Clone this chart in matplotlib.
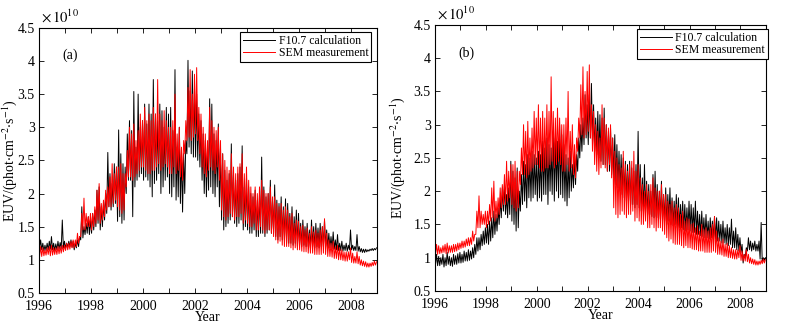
import numpy as np
import matplotlib
matplotlib.use("Agg")
import matplotlib.pyplot as plt
from matplotlib.ticker import MultipleLocator, FixedLocator, FuncFormatter

# EUV flux in units of 1e10 phot/(cm^2 s); one trough (lo) and one peak (hi)
# per month, 1996-2008, read across each ~27-day rotation swing.

# panel (a): F10.7 based calculation
f107_a_hi = [
    1.30, 1.25, 1.22, 1.25, 1.28, 1.35, 1.25, 1.24, 1.28, 1.26, 1.60, 1.28,  # 1996
    1.25, 1.28, 1.30, 1.28, 1.25, 1.30, 1.35, 1.80, 1.50, 1.55, 1.65, 1.60,  # 1997
    1.70, 1.75, 2.05, 2.10, 1.80, 1.85, 2.00, 2.62, 2.30, 2.15, 2.45, 2.40,  # 1998
    2.96, 2.60, 2.45, 2.40, 2.90, 3.10, 2.95, 3.54, 2.70, 3.50, 3.00, 3.10,  # 1999
    3.35, 3.05, 3.35, 3.20, 3.72, 3.20, 3.10, 3.35, 3.25, 3.00, 3.30, 3.20,  # 2000
    3.30, 2.95, 3.87, 2.70, 3.00, 2.60, 2.60, 2.80, 4.01, 3.55, 3.85, 3.60,  # 2001
    3.50, 3.20, 3.10, 2.90, 2.80, 2.70, 3.43, 3.35, 2.90, 2.80, 3.05, 2.70,  # 2002
    2.60, 2.35, 2.20, 2.30, 2.75, 2.30, 2.20, 2.30, 2.40, 2.72, 2.10, 2.25,  # 2003
    2.10, 2.00, 1.95, 2.05, 1.90, 2.00, 2.55, 2.10, 1.95, 2.00, 2.20, 1.90,  # 2004
    2.13, 1.90, 1.85, 1.95, 1.80, 1.92, 1.85, 1.70, 1.80, 1.65, 1.75, 1.70,  # 2005
    1.55, 1.60, 1.50, 1.55, 1.45, 1.60, 1.50, 1.55, 1.48, 1.55, 1.50, 1.60,  # 2006
    1.45, 1.40, 1.35, 1.42, 1.30, 1.38, 1.25, 1.28, 1.22, 1.25, 1.22, 1.45,  # 2007
    1.22, 1.20, 1.38, 1.20, 1.17, 1.16, 1.16, 1.15, 1.16, 1.17, 1.17, 1.18,  # 2008
]
f107_a_lo = [
    1.18, 1.15, 1.13, 1.14, 1.15, 1.16, 1.15, 1.14, 1.15, 1.16, 1.17, 1.18,
    1.18, 1.19, 1.20, 1.19, 1.15, 1.18, 1.20, 1.30, 1.33, 1.38, 1.40, 1.38,
    1.40, 1.45, 1.50, 1.55, 1.45, 1.50, 1.60, 1.70, 1.80, 1.75, 1.80, 1.85,
    1.58, 1.65, 1.55, 1.60, 2.00, 2.20, 2.20, 1.65, 2.10, 2.20, 2.25, 2.30,
    2.20, 2.25, 2.20, 2.10, 1.95, 2.15, 2.20, 2.30, 2.00, 2.10, 2.20, 2.25,
    2.00, 1.95, 2.10, 1.90, 1.95, 1.85, 1.72, 2.00, 2.60, 2.70, 2.60, 2.55,
    2.55, 2.50, 2.40, 2.20, 2.00, 1.95, 2.05, 2.10, 2.00, 1.95, 2.10, 1.80,
    1.60, 1.45, 1.50, 1.55, 1.60, 1.65, 1.55, 1.50, 1.55, 1.60, 1.45, 1.50,
    1.45, 1.40, 1.40, 1.45, 1.35, 1.35, 1.40, 1.40, 1.35, 1.40, 1.45, 1.40,
    1.40, 1.35, 1.30, 1.35, 1.30, 1.30, 1.25, 1.25, 1.25, 1.22, 1.25, 1.20,
    1.22, 1.20, 1.22, 1.20, 1.20, 1.18, 1.20, 1.18, 1.20, 1.18, 1.20, 1.20,
    1.20, 1.18, 1.18, 1.17, 1.16, 1.15, 1.14, 1.14, 1.13, 1.14, 1.13, 1.15,
    1.15, 1.14, 1.14, 1.13, 1.12, 1.11, 1.11, 1.12, 1.13, 1.14, 1.14, 1.15,
]

# panel (b): F10.7 based calculation, second model
f107_b_hi = [
    1.05, 1.02, 1.00, 1.05, 1.00, 1.08, 1.02, 1.00, 1.05, 1.03, 1.06, 1.08,
    1.05, 1.10, 1.08, 1.12, 1.10, 1.15, 1.20, 1.30, 1.30, 1.35, 1.40, 1.45,
    1.50, 1.55, 1.60, 1.70, 1.65, 1.75, 1.90, 2.05, 2.10, 1.95, 2.05, 2.45,
    2.30, 2.20, 2.35, 2.00, 2.25, 2.45, 2.40, 2.55, 2.50, 2.60, 2.55, 2.50,
    2.60, 2.55, 2.75, 2.65, 2.80, 2.70, 2.65, 2.90, 2.80, 2.75, 3.00, 2.85,
    2.70, 2.55, 2.50, 2.60, 2.40, 2.50, 2.55, 2.80, 3.00, 3.10, 3.45, 3.30,
    3.45, 3.62, 3.30, 3.10, 3.20, 3.15, 3.10, 3.25, 3.00, 2.90, 2.95, 2.80,
    2.85, 2.70, 2.60, 2.55, 2.50, 2.45, 2.40, 2.45, 2.35, 2.30, 2.40, 2.90,
    2.40, 2.20, 2.40, 2.15, 2.10, 2.00, 2.25, 2.30, 2.10, 2.00, 2.15, 1.95,
    2.05, 1.95, 2.05, 1.90, 1.85, 1.95, 1.90, 1.80, 1.85, 1.80, 1.75, 1.85,
    1.80, 1.75, 1.85, 1.70, 1.65, 1.70, 1.60, 1.65, 1.55, 1.60, 1.55, 1.62,
    1.60, 1.55, 1.50, 1.55, 1.45, 1.50, 1.45, 1.58, 1.40, 1.45, 1.35, 1.30,
    1.20, 1.05, 1.15, 1.30, 1.25, 1.22, 1.25, 1.20, 1.25, 1.53, 1.00, 1.00,
]
f107_b_lo = [
    0.90, 0.88, 0.88, 0.90, 0.86, 0.88, 0.90, 0.88, 0.87, 0.90, 0.90, 0.92,
    0.92, 0.93, 0.95, 0.95, 0.96, 0.98, 1.00, 1.05, 1.10, 1.12, 1.18, 1.20,
    1.22, 1.20, 1.25, 1.30, 1.35, 1.40, 1.50, 1.60, 1.70, 1.65, 1.60, 1.65,
    1.55, 1.50, 1.40, 1.45, 1.70, 1.80, 1.85, 1.75, 1.90, 1.85, 1.90, 1.95,
    1.85, 1.90, 1.85, 1.95, 1.95, 1.80, 2.00, 1.95, 1.85, 2.00, 1.90, 1.95,
    1.90, 1.85, 1.78, 1.90, 2.00, 2.05, 2.10, 2.30, 2.50, 2.60, 2.70, 2.80,
    2.70, 2.80, 2.75, 2.60, 2.55, 2.50, 2.45, 2.40, 2.40, 2.30, 2.30, 2.25,
    2.20, 2.10, 2.05, 2.00, 1.95, 1.90, 1.85, 1.85, 1.80, 1.80, 1.75, 1.80,
    1.75, 1.70, 1.70, 1.68, 1.65, 1.65, 1.62, 1.60, 1.62, 1.60, 1.58, 1.55,
    1.55, 1.50, 1.55, 1.50, 1.48, 1.50, 1.45, 1.45, 1.45, 1.42, 1.40, 1.42,
    1.40, 1.38, 1.38, 1.35, 1.35, 1.33, 1.32, 1.30, 1.30, 1.28, 1.30, 1.28,
    1.28, 1.25, 1.25, 1.22, 1.22, 1.20, 1.18, 1.20, 1.15, 1.15, 1.12, 1.10,
    1.08, 0.92, 1.00, 1.10, 1.12, 1.10, 1.12, 1.10, 1.10, 0.98, 0.95, 0.96,
]

# SEM measurement, shown in both panels
sem_hi = [
    1.20, 1.18, 1.15, 1.18, 1.20, 1.22, 1.18, 1.18, 1.20, 1.20, 1.22, 1.22,
    1.25, 1.25, 1.28, 1.30, 1.30, 1.40, 1.35, 1.70, 1.93, 1.70, 1.65, 1.70,
    1.70, 1.80, 2.05, 2.15, 1.85, 1.90, 2.05, 2.10, 2.25, 2.45, 2.30, 2.40,
    2.40, 2.45, 2.30, 2.30, 2.65, 3.00, 2.90, 3.05, 2.80, 2.95, 3.20, 3.10,
    3.30, 3.10, 3.20, 3.10, 3.30, 3.20, 3.72, 3.20, 3.10, 3.25, 3.10, 3.00,
    3.00, 3.10, 3.50, 2.90, 3.00, 2.70, 2.80, 3.10, 3.60, 3.87, 3.50, 3.80,
    3.90, 3.30, 3.20, 3.00, 2.90, 2.80, 3.30, 3.10, 3.00, 2.95, 3.00, 2.80,
    2.60, 2.50, 2.40, 2.35, 2.60, 2.40, 2.30, 2.40, 2.45, 2.60, 2.30, 2.40,
    2.20, 2.10, 2.00, 2.10, 2.00, 2.10, 2.20, 2.05, 2.00, 2.00, 2.10, 1.95,
    1.95, 1.85, 1.80, 1.85, 1.75, 1.80, 1.75, 1.65, 1.70, 1.55, 1.60, 1.58,
    1.50, 1.52, 1.45, 1.48, 1.40, 1.50, 1.42, 1.45, 1.40, 1.45, 1.50, 1.62,
    1.40, 1.30, 1.25, 1.28, 1.20, 1.22, 1.18, 1.15, 1.12, 1.12, 1.12, 1.18,
    1.10, 1.05, 1.12, 1.05, 1.00, 0.98, 0.97, 0.95, 0.95, 0.96, 0.98, 0.97,
]
sem_lo = [
    1.05, 1.05, 1.06, 1.07, 1.08, 1.06, 1.07, 1.08, 1.08, 1.09, 1.10, 1.12,
    1.14, 1.15, 1.16, 1.18, 1.18, 1.20, 1.25, 1.35, 1.45, 1.45, 1.50, 1.50,
    1.45, 1.50, 1.55, 1.60, 1.55, 1.60, 1.65, 1.75, 1.80, 1.80, 1.85, 1.90,
    1.80, 1.75, 1.70, 1.75, 2.10, 2.25, 2.25, 2.20, 2.25, 2.30, 2.35, 2.40,
    2.40, 2.35, 2.30, 2.30, 2.35, 2.35, 2.40, 2.45, 2.35, 2.40, 2.45, 2.40,
    2.30, 2.30, 2.40, 2.30, 2.35, 2.25, 2.20, 2.60, 2.80, 2.85, 2.80, 2.85,
    2.90, 2.80, 2.60, 2.40, 2.30, 2.25, 2.35, 2.40, 2.35, 2.30, 2.40, 2.20,
    1.75, 1.65, 1.60, 1.65, 1.70, 1.65, 1.60, 1.65, 1.65, 1.70, 1.55, 1.60,
    1.55, 1.50, 1.50, 1.55, 1.45, 1.45, 1.50, 1.45, 1.40, 1.45, 1.45, 1.40,
    1.35, 1.30, 1.25, 1.28, 1.22, 1.20, 1.20, 1.20, 1.18, 1.15, 1.18, 1.15,
    1.15, 1.13, 1.12, 1.12, 1.10, 1.10, 1.10, 1.08, 1.08, 1.08, 1.08, 1.10,
    1.08, 1.05, 1.05, 1.04, 1.02, 1.02, 1.00, 1.00, 0.99, 0.98, 0.98, 1.00,
    0.96, 0.95, 0.95, 0.94, 0.92, 0.91, 0.90, 0.89, 0.89, 0.90, 0.91, 0.92,
]

start_year = 1996
label_years = [1996, 1998, 2000, 2002, 2004, 2006, 2008]
y_ticks = [0.5, 1, 1.5, 2, 2.5, 3, 3.5, 4, 4.5]
series_names = ["F10.7 calculation", "SEM measurement"]
panel_tags = ["(a)", "(b)"]

plt.rcParams["font.family"] = "serif"
plt.rcParams["font.serif"] = ["Liberation Serif", "DejaVu Serif"]
plt.rcParams["mathtext.fontset"] = "stix"
plt.rcParams["axes.linewidth"] = 0.8


def zigzag(lo, hi):
    """Interleave monthly troughs and peaks into one half-month series."""
    vals = np.column_stack([lo, hi]).ravel()
    t = start_year + (np.arange(vals.size) + 0.5) / 24.0
    return t, vals


def style_axes(ax, tag, ylabel_x):
    ax.set_xlim(1996, 2009)
    ax.set_ylim(0.5, 4.5)
    ax.xaxis.set_major_locator(FixedLocator(label_years))
    ax.xaxis.set_minor_locator(MultipleLocator(1))
    ax.yaxis.set_major_locator(FixedLocator(y_ticks))
    ax.yaxis.set_major_formatter(FuncFormatter(lambda v, p: f"{v:g}"))
    ax.tick_params(which="both", direction="in", top=True, right=True,
                   length=3.5, width=0.6, labelsize=10)
    ax.tick_params(axis="x", pad=5)
    ax.tick_params(axis="y", pad=3)
    ax.set_xlabel("Year", fontsize=10, labelpad=-1.5)
    ax.set_ylabel(r"EUV/(phot$\cdot$cm$^{-2}$$\cdot$s$^{-1}$)", fontsize=10)
    ax.yaxis.set_label_coords(ylabel_x, 0.5)
    ax.yaxis.label.set_va("center")
    ax.text(0.005, 1.01, r"$\times\,10^{10}$", transform=ax.transAxes,
            fontsize=10.5, ha="left", va="bottom")
    ax.text(0.07, 0.895, tag, transform=ax.transAxes, fontsize=10,
            ha="left", va="center")


fig = plt.figure(figsize=(7.88, 3.28), dpi=100)
ax_a = fig.add_axes([0.0495, 0.107, 0.429, 0.808])
ax_b = fig.add_axes([0.552, 0.113, 0.420, 0.811])

panels = [
    (ax_a, f107_a_lo, f107_a_hi, (0.983, 0.985), -0.088),
    (ax_b, f107_b_lo, f107_b_hi, (1.006, 0.985), -0.114),
]

for (ax, lo, hi, anchor, ylx), tag in zip(panels, panel_tags):
    t, calc = zigzag(lo, hi)
    t, meas = zigzag(sem_lo, sem_hi)
    ax.plot(t, calc, color="black", lw=0.7, label=series_names[0])
    ax.plot(t, meas, color="red", lw=0.7, label=series_names[1])
    style_axes(ax, tag, ylx)
    leg = ax.legend(loc="upper right", bbox_to_anchor=anchor, fontsize=8.5,
                    handlelength=2.7, handletextpad=0.3, borderpad=0.25,
                    labelspacing=0.05, fancybox=False, framealpha=1,
                    borderaxespad=0)
    leg.get_frame().set_edgecolor("black")
    leg.get_frame().set_linewidth(0.8)

fig.savefig("out.png", dpi=100)
